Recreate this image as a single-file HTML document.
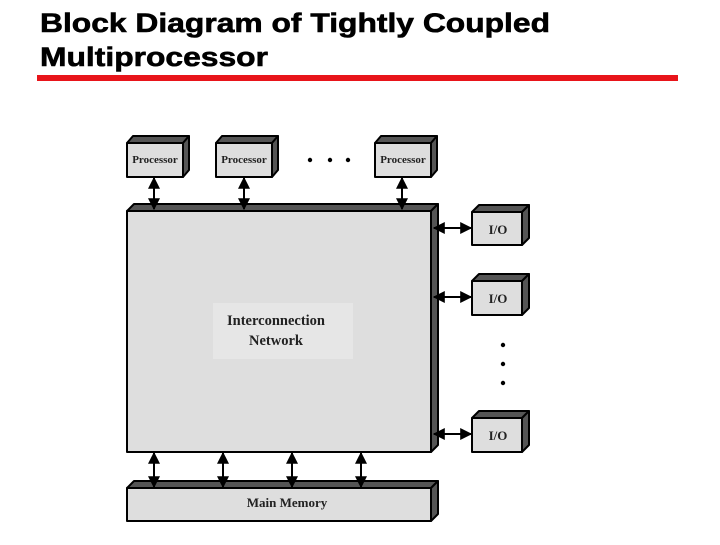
<!DOCTYPE html>
<html><head><style>html,body{margin:0;padding:0;background:#fff}</style></head><body>
<svg width="720" height="540" viewBox="0 0 720 540" xmlns="http://www.w3.org/2000/svg">
<defs>
<marker id="ah" viewBox="0 0 10 10" refX="9" refY="5" markerWidth="6" markerHeight="6" orient="auto-start-reverse"><path d="M0,0 L10,5 L0,10 z" fill="#000"/></marker>
</defs>
<g font-family="Liberation Sans, Arial, sans-serif" font-weight="900" font-size="27" fill="#000" stroke="#000" stroke-width="0.6">
<text x="40" y="32" textLength="510" lengthAdjust="spacingAndGlyphs">Block Diagram of Tightly Coupled</text>
<text x="40" y="66" textLength="228" lengthAdjust="spacingAndGlyphs">Multiprocessor</text>
</g>
<rect x="37" y="75" width="641" height="6" fill="#e8141a"/>
<g stroke="#000" stroke-width="2" stroke-linejoin="round">
<polygon points="127,143 133,136 189,136 183,143" fill="#555"/>
<polygon points="183,143 189,136 189,170 183,177" fill="#555"/>
<rect x="127" y="143" width="56" height="34" fill="#dedede"/>
<polygon points="216,143 222,136 278,136 272,143" fill="#555"/>
<polygon points="272,143 278,136 278,170 272,177" fill="#555"/>
<rect x="216" y="143" width="56" height="34" fill="#dedede"/>
<polygon points="375,143 381,136 437,136 431,143" fill="#555"/>
<polygon points="431,143 437,136 437,170 431,177" fill="#555"/>
<rect x="375" y="143" width="56" height="34" fill="#dedede"/>
<polygon points="127,211 134,204 438,204 431,211" fill="#555"/>
<polygon points="431,211 438,204 438,445 431,452" fill="#555"/>
<rect x="127" y="211" width="304" height="241" fill="#dedede"/>
<polygon points="127,488 134,481 438,481 431,488" fill="#555"/>
<polygon points="431,488 438,481 438,514 431,521" fill="#555"/>
<rect x="127" y="488" width="304" height="33" fill="#dedede"/>
<polygon points="472,212 479,205 529,205 522,212" fill="#555"/>
<polygon points="522,212 529,205 529,238 522,245" fill="#555"/>
<rect x="472" y="212" width="50" height="33" fill="#dedede"/>
<polygon points="472,281 479,274 529,274 522,281" fill="#555"/>
<polygon points="522,281 529,274 529,308 522,315" fill="#555"/>
<rect x="472" y="281" width="50" height="34" fill="#dedede"/>
<polygon points="472,418 479,411 529,411 522,418" fill="#555"/>
<polygon points="522,418 529,411 529,445 522,452" fill="#555"/>
<rect x="472" y="418" width="50" height="34" fill="#dedede"/>
</g>
<g stroke="#000" stroke-width="2" marker-start="url(#ah)" marker-end="url(#ah)">
<line x1="154" y1="178" x2="154" y2="209"/>
<line x1="244" y1="178" x2="244" y2="209"/>
<line x1="402" y1="178" x2="402" y2="209"/>
<line x1="154" y1="453" x2="154" y2="487"/>
<line x1="223" y1="453" x2="223" y2="487"/>
<line x1="292" y1="453" x2="292" y2="487"/>
<line x1="361" y1="453" x2="361" y2="487"/>
<line x1="434" y1="228" x2="471" y2="228"/>
<line x1="434" y1="297" x2="471" y2="297"/>
<line x1="434" y1="434" x2="471" y2="434"/>
</g>
<g fill="#000">
<circle cx="310" cy="160" r="2.2"/><circle cx="330" cy="160" r="2.2"/><circle cx="348" cy="160" r="2.2"/>
<circle cx="503" cy="345" r="2.2"/><circle cx="503" cy="364" r="2.2"/><circle cx="503" cy="383" r="2.2"/>
</g>
<g font-family="Liberation Serif, Times New Roman, serif" font-weight="bold" fill="#222" text-anchor="middle">
<text x="155" y="163" font-size="11">Processor</text>
<text x="244" y="163" font-size="11">Processor</text>
<text x="403" y="163" font-size="11">Processor</text>
<rect x="213" y="303" width="140" height="56" fill="#e6e6e6"/>
<text x="276" y="325" font-size="14.5" fill="#222">Interconnection</text>
<text x="276" y="345" font-size="14.5" fill="#222">Network</text>
<text x="287" y="507" font-size="13">Main Memory</text>
<text x="498" y="234" font-size="13">I/O</text>
<text x="498" y="303" font-size="13">I/O</text>
<text x="498" y="440" font-size="13">I/O</text>
</g>
</svg>
</body></html>
